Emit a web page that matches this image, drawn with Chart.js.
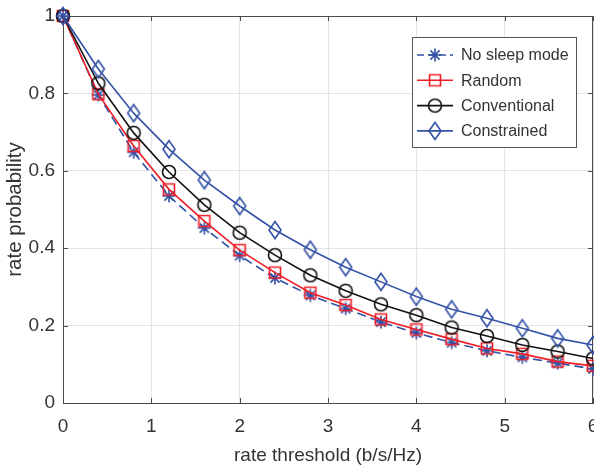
<!DOCTYPE html>
<html>
<head>
<meta charset="utf-8">
<script src="https://cdn.jsdelivr.net/npm/chart.js@4.4.1/dist/chart.umd.min.js"></script>
<style>
html, body { margin: 0; padding: 0; background: #fff; }
</style>
</head>
<body>
<canvas id="chart" width="594" height="468"></canvas>
<script>
// values
const rateThreshold = [0, 0.4, 0.8, 1.2, 1.6, 2.0, 2.4, 2.8, 3.2, 3.6, 4.0, 4.4, 4.8, 5.2, 5.6, 6.0];
const noSleepMode  = [1, 0.796, 0.648, 0.535, 0.452, 0.381, 0.323, 0.278, 0.244, 0.209, 0.181, 0.156, 0.135, 0.118, 0.103, 0.088];
const randomMode   = [1, 0.798, 0.664, 0.552, 0.470, 0.395, 0.337, 0.285, 0.253, 0.216, 0.190, 0.165, 0.141, 0.127, 0.107, 0.096];
const conventional = [1, 0.826, 0.698, 0.597, 0.512, 0.440, 0.382, 0.330, 0.290, 0.255, 0.227, 0.195, 0.173, 0.150, 0.133, 0.115];
const constrained  = [1, 0.863, 0.749, 0.656, 0.576, 0.509, 0.447, 0.396, 0.351, 0.313, 0.275, 0.242, 0.219, 0.193, 0.167, 0.150];

const seriesNames = ["No sleep mode", "Random", "Conventional", "Constrained"];
const xTicks = [0, 1, 2, 3, 4, 5, 6];
const xTickLabels = ["0", "1", "2", "3", "4", "5", "6"];
const yTicks = [0, 0.2, 0.4, 0.6, 0.8, 1];
const yTickLabels = ["0", "0.2", "0.4", "0.6", "0.8", "1"];

const BLUE = "#3352a6";
const RED = "#ee1d25";
const BLACK = "#111111";
const AXIS = "#4a4a4a";
const GRID = "#e4e4e4";
const TEXT = "#333333";
const FONT = "'Liberation Sans', Arial, sans-serif";

function makeMarker(kind, colour) {
    const c = document.createElement("canvas");
    c.width = 22;
    c.height = 22;
    const ctx = c.getContext("2d");
    const cx = 11, cy = 11;
    ctx.strokeStyle = colour;
    ctx.lineWidth = 1.6;
    ctx.beginPath();
    if (kind === "star") {
        const r = 6.5;
        for (let k = 0; k < 4; k++) {
            const a = k * Math.PI / 4;
            ctx.moveTo(cx - r * Math.cos(a), cy - r * Math.sin(a));
            ctx.lineTo(cx + r * Math.cos(a), cy + r * Math.sin(a));
        }
    } else if (kind === "square") {
        ctx.rect(cx - 5.5, cy - 5.5, 11, 11);
    } else if (kind === "circle") {
        ctx.arc(cx, cy, 6.5, 0, Math.PI * 2);
    } else if (kind === "diamond") {
        ctx.moveTo(cx, cy - 8.5);
        ctx.lineTo(cx + 6, cy);
        ctx.lineTo(cx, cy + 8.5);
        ctx.lineTo(cx - 6, cy);
        ctx.closePath();
    }
    ctx.stroke();
    return c;
}

function toPoints(values) {
    return values.map((v, i) => ({x: rateThreshold[i], y: v}));
}

function buildDataset(label, values, colour, marker, dash, order) {
    return {
        label: label,
        data: toPoints(values),
        borderColor: colour,
        backgroundColor: colour,
        borderWidth: 1.6,
        borderDash: dash,
        pointStyle: makeMarker(marker, colour),
        tension: 0,
        clip: false,
        order: order
    };
}

const datasets = [
    buildDataset(seriesNames[0], noSleepMode, BLUE, "star", [9, 5], 4),
    buildDataset(seriesNames[1], randomMode, RED, "square", [], 3),
    buildDataset(seriesNames[2], conventional, BLACK, "circle", [], 2),
    buildDataset(seriesNames[3], constrained, BLUE, "diamond", [], 1)
];

// box round the axes with inward tick marks, like matlab
const axesBox = {
    id: "axesBox",
    beforeDatasetsDraw(chart) {
        const {ctx, chartArea: a, scales: {x, y}} = chart;
        ctx.save();
        ctx.strokeStyle = AXIS;
        ctx.lineWidth = 1;
        ctx.beginPath();
        ctx.moveTo(a.left, a.top + 0.5);
        ctx.lineTo(a.right - 0.5, a.top + 0.5);
        ctx.lineTo(a.right - 0.5, a.bottom);
        for (const v of xTicks) {
            const px = Math.round(x.getPixelForValue(v)) + 0.5;
            ctx.moveTo(px, a.bottom);
            ctx.lineTo(px, a.bottom - 5);
            ctx.moveTo(px, a.top);
            ctx.lineTo(px, a.top + 5);
        }
        for (const v of yTicks) {
            const py = Math.round(y.getPixelForValue(v)) + 0.5;
            ctx.moveTo(a.left, py);
            ctx.lineTo(a.left + 5, py);
            ctx.moveTo(a.right, py);
            ctx.lineTo(a.right - 5, py);
        }
        ctx.stroke();
        ctx.restore();
    }
};

const boxedLegend = {
    id: "boxedLegend",
    afterDraw(chart) {
        const ctx = chart.ctx;
        const left = 412, top = 37, width = 164, height = 110;
        ctx.save();
        ctx.fillStyle = "#ffffff";
        ctx.fillRect(left, top, width, height);
        ctx.strokeStyle = "#555555";
        ctx.lineWidth = 1;
        ctx.strokeRect(left + 0.5, top + 0.5, width, height);
        chart.data.datasets.forEach((ds, i) => {
            const yy = top + 18 + i * 25.3;
            ctx.strokeStyle = ds.borderColor;
            ctx.lineWidth = ds.borderWidth;
            ctx.setLineDash(ds.borderDash.length ? [7, 4] : []);
            ctx.beginPath();
            ctx.moveTo(left + 5, yy);
            ctx.lineTo(left + 41, yy);
            ctx.stroke();
            ctx.setLineDash([]);
            const m = ds.pointStyle;
            ctx.drawImage(m, left + 23 - m.width / 2, yy - m.height / 2);
            ctx.fillStyle = TEXT;
            ctx.font = "16px " + FONT;
            ctx.textBaseline = "middle";
            ctx.fillText(ds.label, left + 49, yy + 1);
        });
        ctx.restore();
    }
};

const tickFont = {family: FONT, size: 19};

new Chart(document.getElementById("chart"), {
    type: "line",
    data: {datasets: datasets},
    options: {
        responsive: false,
        animation: false,
        layout: {autoPadding: false, padding: {top: 16, right: 1, left: 0, bottom: 0}},
        plugins: {
            legend: {display: false},
            tooltip: {enabled: false}
        },
        scales: {
            x: {
                type: "linear",
                min: 0,
                max: 6,
                afterBuildTicks: s => { s.ticks = xTicks.map(v => ({value: v})); },
                afterFit: s => { s.height = 65; s.paddingRight = 0; s.paddingLeft = 0; },
                ticks: {
                    autoSkip: false,
                    maxRotation: 0,
                    padding: 12,
                    font: tickFont,
                    color: TEXT,
                    callback: (v, i) => xTickLabels[i]
                },
                grid: {color: GRID, drawTicks: false},
                border: {color: AXIS, width: 1},
                title: {
                    display: true,
                    text: "rate threshold (b/s/Hz)",
                    font: tickFont,
                    color: TEXT,
                    padding: {top: 0, bottom: 1}
                }
            },
            y: {
                min: 0,
                max: 1,
                afterBuildTicks: s => { s.ticks = yTicks.map(v => ({value: v})); },
                afterFit: s => { s.width = 63; s.paddingTop = 0; s.paddingBottom = 0; },
                ticks: {
                    autoSkip: false,
                    padding: 8,
                    font: tickFont,
                    color: TEXT,
                    callback: (v, i) => yTickLabels[i]
                },
                grid: {color: GRID, drawTicks: false},
                border: {color: AXIS, width: 1},
                title: {
                    display: true,
                    text: "rate probability",
                    font: {family: FONT, size: 20.5},
                    color: TEXT,
                    padding: {top: 3, bottom: 0}
                }
            }
        }
    },
    plugins: [axesBox, boxedLegend]
});
</script>
</body>
</html>
